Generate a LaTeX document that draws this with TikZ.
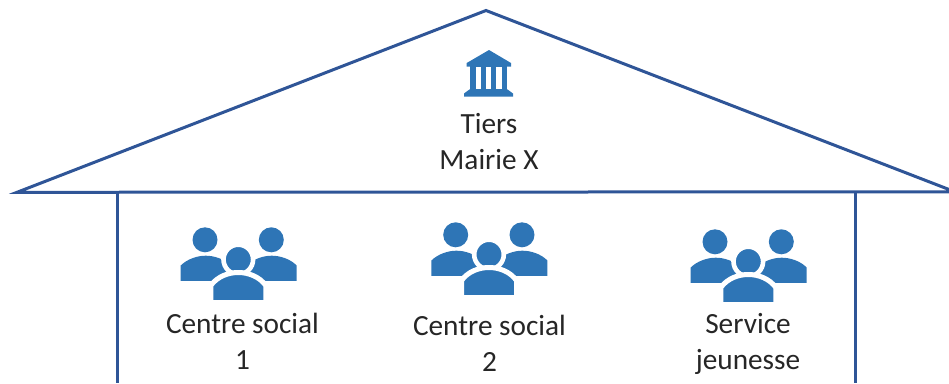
\documentclass[tikz,border=0pt]{standalone}
\usepackage{fontspec}
\setmainfont{Carlito}
\definecolor{houseline}{HTML}{2F5597}
\definecolor{iconblue}{HTML}{2E75B6}
\tikzset{
  x=1pt,y=-1pt,
  houseline/.style={draw=houseline,line width=3pt,line join=miter},
  label/.style={align=center,text=black!85,font=\fontsize{29.3}{36}\selectfont,inner sep=0pt},
  pics/people/.style={code={
    \fill[iconblue] (-33.3,-19.7) circle (12.5);
    \fill[iconblue] (33,-19.7) circle (12.5);
    \fill[iconblue] (-57.6,21.3) -- (-57.6,6) .. controls (-51,-0.5) and (-41,-3.8) .. (-32.6,-3.8) .. controls (-24,-3.8) and (-14,-0.5) .. (-7.6,6) -- (-7.6,21.3) -- cycle;
    \fill[iconblue] (58.4,21.3) -- (58.4,6) .. controls (52,-0.5) and (42,-3.8) .. (33.4,-3.8) .. controls (25,-3.8) and (15,-0.5) .. (8.4,6) -- (8.4,21.3) -- cycle;
    \filldraw[iconblue,draw=white,line width=4.6pt] (0,0) circle (14.8);
    \filldraw[fill=iconblue,draw=white,line width=5pt] (-27.5,43) -- (-27.5,26) .. controls (-21,17) and (-10,13) .. (0,13) .. controls (10,13) and (21,17) .. (27.5,26) -- (27.5,43) -- cycle;
    \fill[white] (-32,40) rectangle (32,46);
  }},
  pics/temple/.style={code={
    \fill[iconblue] (0.5,0) -- (22.5,13) -- (22.5,16.7) -- (-21.8,16.7) -- (-21.8,13) -- cycle;
    \fill[iconblue] (-18.3,16) rectangle (18.3,39.5);
    \foreach \ga/\gb in {-12.8/-7.5,-2.5/2.8,7.8/13.2}{\fill[white] (\ga,17.3) rectangle (\gb,39.3);}
    \fill[iconblue] (-18.8,39.3) -- (18.8,39.3) -- (24.5,43.5) -- (24.5,46.7) -- (-24.5,46.7) -- (-24.5,43.5) -- cycle;
  }}
}
\begin{document}
\begin{tikzpicture}
\useasboundingbox (0,0) rectangle (949,383);
\coordinate (roofL) at (17,192.3);
\coordinate (apex) at (486,10.5);
\coordinate (roofR) at (955,191.8);
\coordinate (wallLt) at (117,192);
\coordinate (wallLb) at (117,383);
\coordinate (wallRt) at (855,192);
\coordinate (wallRb) at (855,383);
\draw[houseline] (roofL) -- (apex) -- (roofR) -- cycle;
\draw[houseline] (wallLt) -- (wallLb);
\draw[houseline] (wallRt) -- (wallRb);
\pic at (488.5,50) (temple) {temple};
\pic at (238.3,259.5) (p1) {people};
\pic at (489,254.5) (p2) {people};
\pic at (748.3,261.5) (p3) {people};
\node[label] (tiers) at (489,141.5) {Tiers\\Mairie X};
\node[label] (c1) at (242.5,341.5) {Centre social\\1};
\node[label] (c2) at (489.5,343) {Centre social\\2};
\node[label] (sj) at (748,344) {Service\\jeunesse};
\end{tikzpicture}
\end{document}
